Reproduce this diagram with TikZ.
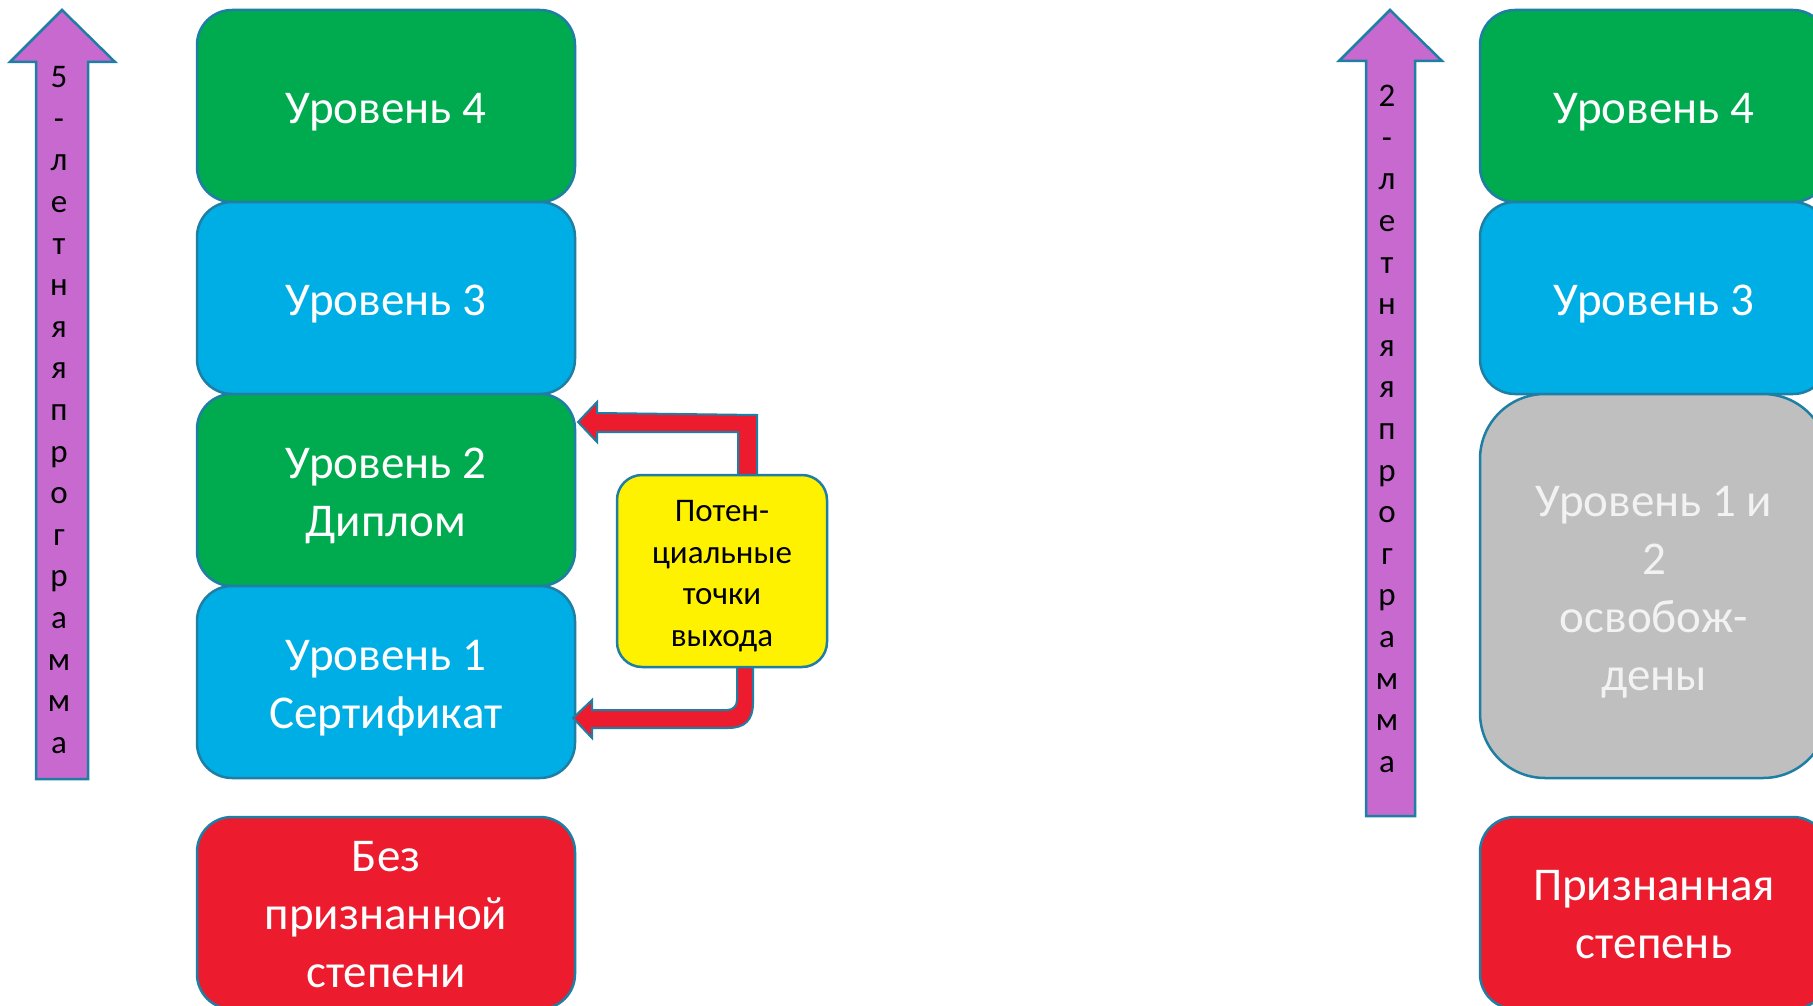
\documentclass[tikz,border=0pt]{standalone}
\usepackage{fontspec}
\setmainfont{Carlito}
\definecolor{bord}{RGB}{31,126,164}
\definecolor{lgreen}{RGB}{0,171,80}
\definecolor{lblue}{RGB}{0,174,230}
\definecolor{lred}{RGB}{236,28,46}
\definecolor{lpurple}{RGB}{200,105,208}
\definecolor{lgray}{RGB}{191,191,191}
\definecolor{ltext}{RGB}{242,242,242}
\begin{document}
\begin{tikzpicture}[x=1pt,y=-1pt,
  lvl/.style={draw=bord, line width=2.5pt, rounded corners=35pt, minimum width=378pt,
    minimum height=192pt, inner sep=0pt},
  rlvl/.style={lvl, minimum width=348pt},
  lbl/.style={text=white, align=center, inner sep=0pt, yshift=-6pt,
    font=\fontsize{47}{58}\selectfont},
  atext/.style={align=center, inner sep=0pt, text=black, font=\fontsize{33}{41.6}\selectfont},
  parrow/.style={draw=bord, line width=2.5pt, fill=lpurple, line join=miter},
  rarrow/.style={draw=bord, line width=2pt, fill=lred, line join=miter}]
\useasboundingbox (0,0) rectangle (1813,1006);
\clip (0,0) rectangle (1813,1006);
\fill[white] (0,0) rectangle (1813,1006);

% left purple arrow
\draw[parrow] (36,779) -- (36,62) -- (10,62) -- (62,10) -- (115,62) -- (88,62) -- (88,779) -- cycle;
\node[atext] (t5) at (59,410) {5\\-\\л\\е\\т\\н\\я\\я\\п\\р\\о\\г\\р\\а\\м\\м\\а};

% left stack
\node[lvl, fill=lgreen, label={[lbl]center:Уровень 4}] (l4) at (386,106) {};
\node[lvl, fill=lblue, label={[lbl]center:Уровень 3}] (l3) at (386,298) {};
\node[lvl, fill=lgreen, label={[lbl]center:{Уровень 2\\Диплом}}] (l2) at (386,490) {};
\node[lvl, fill=lblue, label={[lbl]center:{Уровень 1\\Сертификат}}] (l1) at (386,682) {};
\node[lvl, fill=lred, label={[lbl, yshift=4pt]center:{Без\\признанной\\степени}}] (l0) at (386,913) {};

% red exit arrows
\draw[rarrow] (757,478) -- (757,415) -- (597,413) -- (597,402) -- (578,422) -- (597,442) -- (597,432) -- (738,432) -- (738,478) -- cycle;
\draw[rarrow] (737,664) -- (737,700) .. controls (737,706) and (733,710) .. (727,710) -- (592,710) -- (592,700) -- (573,718) -- (592,738) -- (592,728) -- (728,728) .. controls (745,728) and (753,720) .. (753,703) -- (753,664) -- cycle;

% yellow box
\node[draw=bord, line width=2.5pt, fill=yellow, rounded corners=25pt, minimum width=210pt,
  minimum height=192pt, inner sep=0pt,
  label={[atext, yshift=-5pt]center:{Потен-\\циальные\\точки\\выхода}}] (yel) at (722,571) {};

% right purple arrow
\draw[parrow] (1366,816) -- (1366,61) -- (1339,61) -- (1390,10) -- (1442,61) -- (1415,61) -- (1415,816) -- cycle;
\node[atext] (t2) at (1387,429) {2\\-\\л\\е\\т\\н\\я\\я\\п\\р\\о\\г\\р\\а\\м\\м\\а};

% right stack
\node[rlvl, fill=lgreen, label={[lbl]center:Уровень 4}] (r4) at (1654,106) {};
\node[rlvl, fill=lblue, label={[lbl]center:Уровень 3}] (r3) at (1654,298) {};
\node[rlvl, fill=lgray, minimum height=384pt, rounded corners=65pt,
  label={[lbl, text=ltext]center:{Уровень 1 и\\2\\освобож-\\дены}}] (r12) at (1654,586) {};
\node[rlvl, fill=lred, label={[lbl, yshift=4pt]center:{Признанная\\степень}}] (r0) at (1654,913) {};
\end{tikzpicture}
\end{document}
